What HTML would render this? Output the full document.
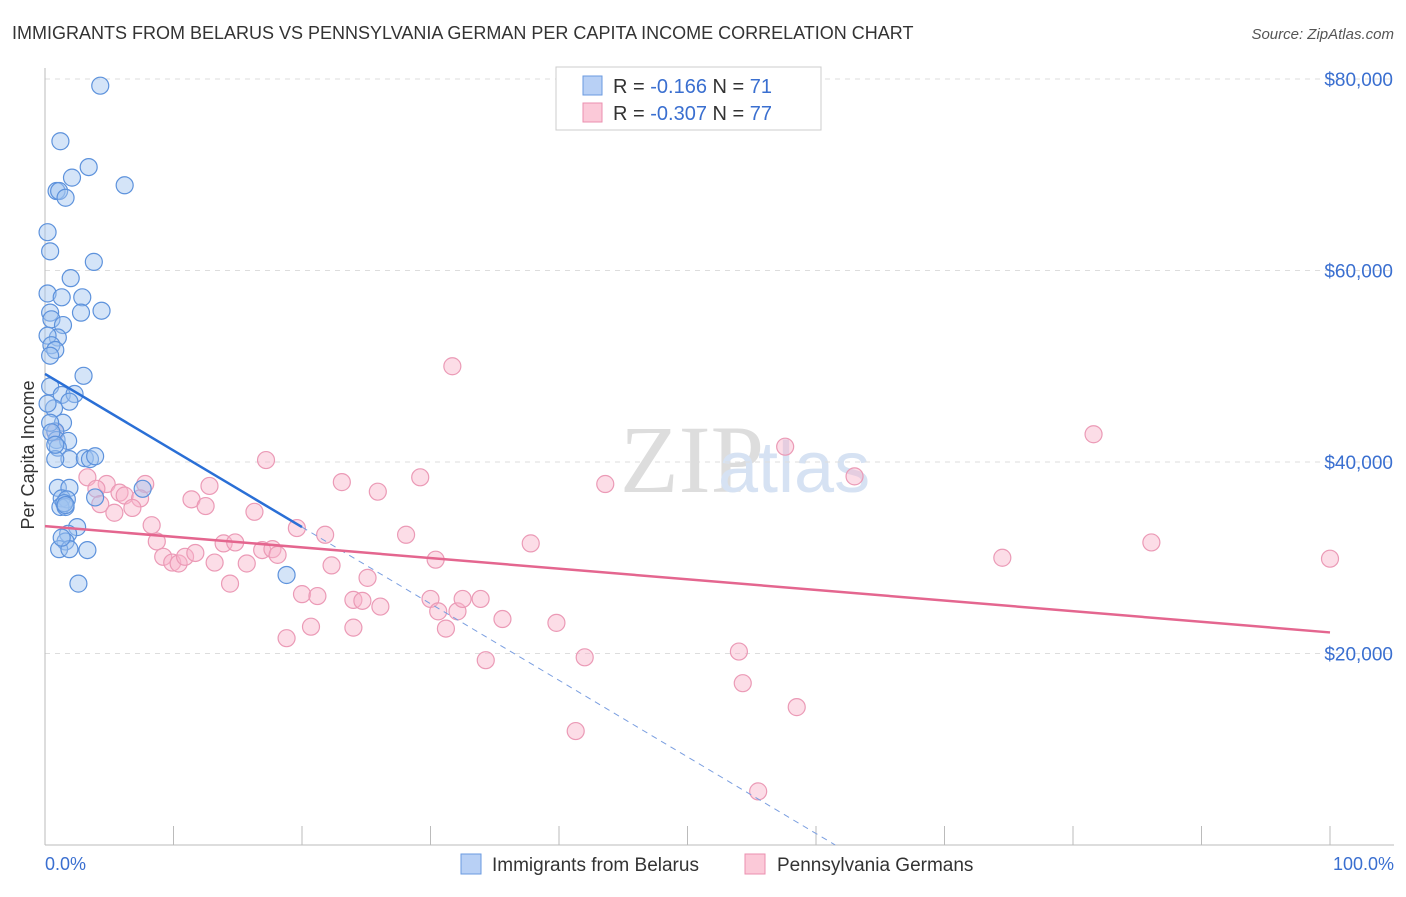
<!DOCTYPE html>
<html><head><meta charset="utf-8"><style>
body{margin:0;background:#fff;font-family:"Liberation Sans",sans-serif}
</style></head><body>
<svg width="1406" height="892" id="c">
<text x="12" y="39" font-size="18" fill="#333">IMMIGRANTS FROM BELARUS VS PENNSYLVANIA GERMAN PER CAPITA INCOME CORRELATION CHART</text>
<text x="1394" y="39" font-size="15" fill="#555" text-anchor="end" font-style="italic">Source: ZipAtlas.com</text>
<text x="620" y="492" font-size="96" fill="#ddd" font-family="Liberation Serif">ZIP</text>
<text x="718" y="492" font-size="72" fill="#d6e2f3">atlas</text>
<g id="grid"></g><g id="axes"></g><g id="marks"></g>
<text transform="translate(34,455) rotate(-90)" font-size="18" fill="#333" text-anchor="middle">Per Capita Income</text>
<text x="45" y="870" font-size="18" fill="#3a6fd0">0.0%</text>
<text x="1394" y="870" font-size="18" fill="#3a6fd0" text-anchor="end">100.0%</text>
<g>
<rect x="556" y="67" width="265" height="63" fill="#fff" stroke="#ccc"/>
<rect x="583" y="76" width="19" height="19" fill="#b8d0f5" stroke="#6a9ae0"/>
<rect x="583" y="103" width="19" height="19" fill="#fbc9d8" stroke="#eb8faf"/>
<text x="613" y="93" font-size="20" fill="#333">R = <tspan fill="#3a6fd0"> -0.166</tspan>   N = <tspan fill="#3a6fd0"> 71</tspan></text>
<text x="613" y="120" font-size="20" fill="#333">R = <tspan fill="#3a6fd0">-0.307</tspan>   N = <tspan fill="#3a6fd0"> 77</tspan></text>
</g>
<g>
<rect x="461" y="854" width="20" height="20" fill="#b8d0f5" stroke="#6a9ae0"/>
<text x="492" y="871" font-size="19" fill="#333">Immigrants from Belarus</text>
<rect x="745" y="854" width="20" height="20" fill="#fbc9d8" stroke="#eb8faf"/>
<text x="777" y="871" font-size="19" fill="#333">Pennsylvania Germans</text>
</g>
</svg>
<script>
const yTicks=[20000,40000,60000,80000];
const yTickLabels=["$20,000","$40,000","$60,000","$80,000"];
const blueX=[4.3,1.2,3.4,2.1,6.2,0.9,1.1,1.6,0.2,0.4,3.8,2.0,0.2,1.3,2.9,0.4,2.8,4.4,0.5,1.4,1.0,0.2,0.5,0.8,0.4,3.0,0.4,1.3,2.3,1.9,0.7,0.2,1.4,0.8,0.9,1.8,1.0,1.9,3.1,3.5,3.9,0.8,1.0,1.9,7.6,3.9,1.3,1.7,1.2,1.6,2.5,1.8,1.6,1.1,1.9,3.3,2.6,18.8,0.4,0.5,0.8,1.5,1.6,1.3];
const blueY=[79300,73500,70800,69700,68900,68300,68300,67600,64000,62000,60900,59200,57600,57200,57200,55600,55600,55800,54900,54300,53000,53200,52200,51700,51100,49000,47900,47000,47100,46300,45600,46100,44100,43200,42300,42200,41500,40300,40400,40300,40600,40300,37300,37300,37200,36300,36200,36100,35300,35300,33200,32500,31700,30900,30900,30800,27300,28200,44100,43100,41800,35700,35500,32100];
const pinkX=[31.7,57.6,81.6,63.0,17.2,23.1,25.9,29.2,43.6,3.3,4.8,4.0,5.8,7.8,6.2,7.4,11.4,12.8,12.5,4.3,5.4,6.8,8.3,8.7,9.2,9.9,10.4,10.9,11.7,13.2,13.9,14.8,14.4,15.7,16.3,16.9,17.7,18.1,19.6,21.8,22.3,25.1,28.1,30.4,20.0,21.2,24.0,24.7,26.1,20.7,24.0,18.8,30.0,30.6,32.1,32.5,33.9,31.2,35.6,39.8,34.3,37.8,42.0,41.3,54.0,54.3,58.5,55.5,74.5,86.1,100.0,0.8];
const pinkY=[50000,41600,42900,38500,40200,37900,36900,38400,37700,38400,37700,37200,36800,37700,36500,36200,36100,37500,35400,35600,34700,35200,33400,31700,30100,29500,29400,30100,30500,29500,31500,31600,27300,29400,34800,30800,30900,30300,33100,32400,29200,27900,32400,29800,26200,26000,25600,25500,24900,22800,22700,21600,25700,24400,24400,25700,25700,22600,23600,23200,19300,31500,19600,11900,20200,16900,14400,5600,30000,31600,29900,43100];
const X=v=>45+v*12.85, Y=v=>845-v*0.009575;
const NS='http://www.w3.org/2000/svg';
function mk(tag,attrs,parent){const e=document.createElementNS(NS,tag);for(const k in attrs)e.setAttribute(k,attrs[k]);document.getElementById(parent).appendChild(e);return e;}
yTicks.forEach((t,i)=>{
 const g=mk('line',{x1:45,x2:1394,y1:Y(t),y2:Y(t),stroke:'#ddd','stroke-dasharray':'5,5'},'grid');
 
 
 const l=mk('text',{x:1393,y:Y(t)+7,'font-size':19,fill:'#3a6fd0','text-anchor':'end'},'grid');
 l.textContent=yTickLabels[i];
 
 
});
const ax=mk('line',{x1:45,x2:45,y1:68,y2:845,stroke:'#bbb'},'axes');


const bx=mk('line',{x1:45,x2:1394,y1:845,y2:845,stroke:'#bbb'},'axes');


for(let i=0;i<=10;i++){const t=mk('line',{x1:X(i*10),x2:X(i*10),y1:826,y2:845,stroke:'#bbb'},'axes');
 
 }
pinkX.forEach((x,i)=>{const c=mk('circle',{cx:X(x),cy:Y(pinkY[i]),r:8.5,fill:'rgba(248,180,202,0.45)',stroke:'#eb9ab6','stroke-width':1.2},'marks');
 
 });
blueX.forEach((x,i)=>{const c=mk('circle',{cx:X(x),cy:Y(blueY[i]),r:8.5,fill:'rgba(160,195,240,0.45)',stroke:'#5d92dc','stroke-width':1.2},'marks');
 
 });
const bt=mk('line',{x1:X(0),y1:Y(49200),x2:X(20),y2:Y(33200),stroke:'#2a6fd6','stroke-width':2.5},'marks');


const bd=mk('line',{x1:X(20),y1:Y(33200),x2:X(61.5),y2:Y(0),stroke:'#7a9ee0','stroke-width':1,'stroke-dasharray':'6,5'},'marks');


const pt=mk('line',{x1:X(0),y1:Y(33300),x2:X(100),y2:Y(22200),stroke:'#e4668f','stroke-width':2.5},'marks');


</script>
</body></html>
